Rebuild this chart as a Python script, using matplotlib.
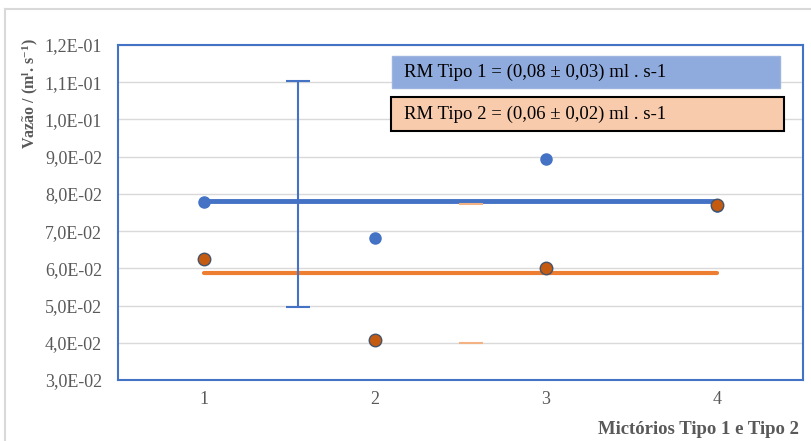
import matplotlib
matplotlib.use("Agg")
import matplotlib.pyplot as plt
from matplotlib.ticker import FuncFormatter, MultipleLocator
from matplotlib.patches import Rectangle
from matplotlib.lines import Line2D

plt.rcParams['font.family'] = ['Liberation Serif', 'DejaVu Serif']
plt.rcParams['mathtext.default'] = 'regular'

# Data
categories = [1, 2, 3, 4]
tipo1 = [0.0778, 0.0681, 0.0894, 0.0767]
tipo2 = [0.0625, 0.0407, 0.0600, 0.0770]
mean1 = 0.0782
mean2 = 0.0588
err1_x, err1_lo, err1_hi = 1.55, 0.0497, 0.1103
err2_x, err2_lo, err2_hi = 2.56, 0.0399, 0.0773
label1 = "RM Tipo 1 = (0,08 ± 0,03) ml . s-1"
label2 = "RM Tipo 2 = (0,06 ± 0,02) ml . s-1"

blue = '#4472C4'
orange = '#ED7D31'
dark_orange = '#C55A11'
gray_txt = '#595959'

W, H = 812, 441
fig = plt.figure(figsize=(W / 100, H / 100), dpi=100)

# outer chart border (partially visible)
fig.add_artist(Line2D([5 / W, 5 / W], [0, 1 - 9 / H], color='#D9D9D9', lw=1.5))
fig.add_artist(Line2D([5 / W, 1], [1 - 9 / H, 1 - 9 / H], color='#D9D9D9', lw=1.5))

ax = fig.add_axes([118 / W, 1 - 380 / H, (803 - 118) / W, (380 - 45) / H])
ax.set_xlim(0.5, 4.5)
ax.set_ylim(0.03, 0.12)
ax.yaxis.set_major_locator(MultipleLocator(0.01))
ax.set_xticks(categories)
ax.yaxis.set_major_formatter(FuncFormatter(lambda v, p: f"{v:.1E}".replace('.', ',')))
ax.grid(axis='y', color='#D9D9D9', lw=1)
ax.set_axisbelow(True)
for s in ax.spines.values():
    s.set_color(blue)
    s.set_linewidth(1.5)
ax.tick_params(length=0, labelsize=13, labelcolor=gray_txt)
ax.tick_params(axis='y', pad=11.5)
ax.tick_params(axis='x', pad=8)

# mean lines
ax.plot([categories[0], categories[-1]], [mean1, mean1], color=blue, lw=3.5, solid_capstyle='round', zorder=3)
ax.plot([categories[0], categories[-1]], [mean2, mean2], color=orange, lw=3, solid_capstyle='round', zorder=3)

# points
ax.plot(categories, tipo1, 'o', color=blue, ms=8, zorder=4)
ax.plot(categories, tipo2, 'o', color=dark_orange, mec='#44546A', mew=1, ms=9, zorder=5)

# error bars
ax.errorbar([err1_x], [(err1_lo + err1_hi) / 2], yerr=[(err1_hi - err1_lo) / 2],
            fmt='none', ecolor=blue, elinewidth=1.5, capsize=8.5, capthick=1.5, zorder=6)
ax.errorbar([err2_x], [(err2_lo + err2_hi) / 2], yerr=[(err2_hi - err2_lo) / 2],
            fmt='none', ecolor='#F4B183', elinewidth=0, capsize=8.5, capthick=1.5, zorder=6)

# text boxes
fig.add_artist(Rectangle((392 / W, 1 - 88 / H), (780 - 392) / W, 32 / H,
                         facecolor='#8FAADC', edgecolor='#9DB5E0', lw=1))
fig.text(404 / W, 1 - 72 / H, label1, fontsize=13.5, va='center', ha='left', color='black')
fig.add_artist(Rectangle((391 / W, 1 - 131 / H), (784 - 391) / W, 34 / H,
                         facecolor='#F8CBAD', edgecolor='black', lw=1.5))
fig.text(404 / W, 1 - 114 / H, label2, fontsize=13.5, va='center', ha='left', color='black')

# axis labels
fig.text(30 / W, 1 - 94 / H, "Vazão / (m$^{l}$. s$^{-1}$)", rotation=90, ha='center', va='center',
         fontsize=11.5, fontweight='bold', color=gray_txt)
fig.text(698 / W, 1 - 430 / H, "Mictórios Tipo 1 e Tipo 2", ha='center', va='center',
         fontsize=13.5, fontweight='bold', color=gray_txt)

fig.savefig('out.png', dpi=100)
